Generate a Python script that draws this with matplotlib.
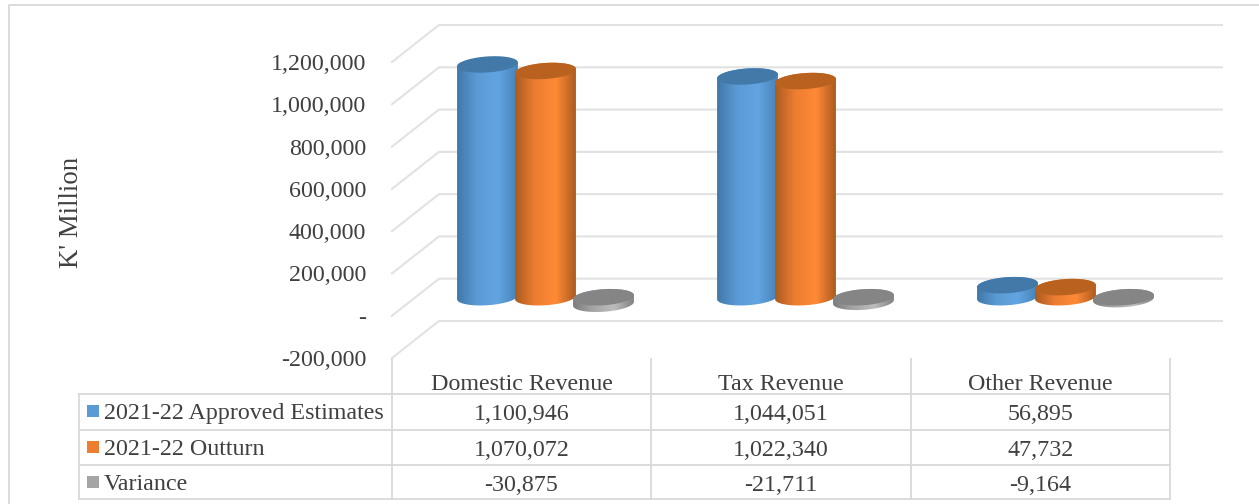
import numpy as np
import matplotlib
matplotlib.use('Agg')
import matplotlib.pyplot as plt
from matplotlib.patches import Polygon, Rectangle
from matplotlib.colors import LinearSegmentedColormap

plt.rcParams['font.family'] = ['Liberation Serif', 'DejaVu Serif']

categories = ['Domestic Revenue', 'Tax Revenue', 'Other Revenue']
series_names = ['2021-22 Approved Estimates', '2021-22 Outturn', 'Variance']
approved = [1100946, 1044051, 56895]
outturn = [1070072, 1022340, 47732]
variance = [-30875, -21711, -9164]
y_ticks = [-200000, 0, 200000, 400000, 600000, 800000, 1000000, 1200000]
y_labels = ['-200,000', '-', '200,000', '400,000', '600,000', '800,000', '1,000,000', '1,200,000']
table_rows = [['1,100,946', '1,044,051', '56,895'],
              ['1,070,072', '1,022,340', '47,732'],
              ['-30,875', '-21,711', '-9,164']]

W, H = 1259, 504
GRID = '#e2e2e2'
TEXT = '#404040'
FS = 17.3
# dark edge, mid, bright, dark edge shading of each cylinder + top face + legend swatch
shades = [['#3f76a6', '#5b9bd5', '#62a5e2', '#4580b5'],
          ['#a85a20', '#ed7d31', '#ff8a35', '#a9591f'],
          ['#7a7a7a', '#a5a5a5', '#bdbdbd', '#808080']]
tops = ['#4279a8', '#b9621f', '#858585']
swatch = ['#5b9bd5', '#ed7d31', '#a5a5a5']

fig = plt.figure(figsize=(W / 100, H / 100), dpi=100)

# front plane of the chart: x 392-1172 px, y 358 (-200k) to 62 (1.2M) px
ax = fig.add_axes([392 / W, 1 - 358 / H, (1172 - 392) / W, (358 - 62) / H])
ax.axis('off')

px_x = 3 / (1172 - 392)          # data units per pixel
px_y = 1400000 / (358 - 62)
depth_x = 47 * px_x              # depth of the 3D box
depth_y = 37 * px_y
rx = 30.5 * px_x
ry = 8 * px_y
tilt = np.deg2rad(4)


def ellipse(cx, cy, start=0, stop=2 * np.pi, n=80):
    t = np.linspace(start, stop, n)
    ex, ey = 30.5 * np.cos(t), 8 * np.sin(t)
    x = ex * np.cos(tilt) - ey * np.sin(tilt)
    y = ex * np.sin(tilt) + ey * np.cos(tilt)
    return np.column_stack([cx + x * px_x, cy + y * px_y])


def cylinder(cx, base, top, colors, top_color, z):
    # body goes from the lower half of the base ellipse up to the top ellipse
    low, high = min(base, top), max(base, top)
    lower = ellipse(cx, low, np.pi, 2 * np.pi)
    upper = ellipse(cx, high, 0, np.pi)
    pts = np.vstack([lower, upper])
    cmap = LinearSegmentedColormap.from_list('c', colors)
    grad = cmap(np.linspace(0, 1, 120))[None, :, :]
    im = ax.imshow(grad, extent=[cx - rx * 1.02, cx + rx * 1.02, low - 3 * ry, high + 3 * ry],
                   aspect='auto', zorder=z, interpolation='bilinear')
    clip = Polygon(pts, closed=True, transform=ax.transData, fc='none', ec='none', clip_on=False)
    ax.add_patch(clip)
    im.set_clip_path(clip)
    ax.add_patch(Polygon(ellipse(cx, high), closed=True, fc=top_color, ec='none',
                         zorder=z + 0.1, clip_on=False))


# walls: gridlines run along the floor diagonal and then along the back wall
back_right = 3 + (1222 - 1172) * px_x
for v in y_ticks:
    ax.plot([0, depth_x, back_right], [v, v + depth_y, v + depth_y], color=GRID, lw=1.5,
            clip_on=False, zorder=1, solid_joinstyle='miter')

# cylinders: middle of the depth, one series offset per bar
offsets = [-58 * px_x, 0, 58 * px_x]
for s, vals in enumerate([approved, outturn, variance]):
    for c, v in enumerate(vals):
        cx = c + 0.5 + depth_x / 2 + offsets[s]
        base = depth_y / 2
        cylinder(cx, base, base + v, shades[s], tops[s], 3 + s + c * 0.01)

ax.set_xlim(0, 3)
ax.set_ylim(-200000, 1200000)

# y tick labels
for v, lab in zip(y_ticks, y_labels):
    ax.text(-26 * px_x, v, lab, ha='right', va='center_baseline', fontsize=FS,
            color=TEXT, clip_on=False)

# overlay axes in pixels for the frame and the data table
ov = fig.add_axes([0, 0, 1, 1], zorder=10)
ov.set_xlim(0, W)
ov.set_ylim(H, 0)
ov.axis('off')
ov.patch.set_alpha(0)

ov.plot([9, 9, W], [H, 5, 5], color='#d9d9d9', lw=1.3)
ov.text(72, 212, "K' Million", rotation=90, ha='center', va='center', fontsize=19.3, color=TEXT)

col_x = [392, 651, 911, 1170]
row_y = [359, 394, 430, 465, 499]
for x in col_x:
    ov.plot([x, x], [row_y[0], row_y[-1]], color='#d9d9d9', lw=1.3)
ov.plot([79, 79], [row_y[1], row_y[-1]], color='#d9d9d9', lw=1.3)
for y in row_y[1:]:
    ov.plot([79, 1170], [y, y], color='#d9d9d9', lw=1.3)

for c, name in enumerate(categories):
    ov.text((col_x[c] + col_x[c + 1]) / 2, 382, name, ha='center', va='center_baseline',
            fontsize=FS, color=TEXT)
label_y = [411, 447, 482]
value_y = [412, 448, 483]
for r, name in enumerate(series_names):
    ov.add_patch(Rectangle((87, label_y[r] - 6), 12, 12, fc=swatch[r], ec='none'))
    ov.text(104, label_y[r], name, ha='left', va='center_baseline', fontsize=FS, color=TEXT)
    for c, val in enumerate(table_rows[r]):
        ov.text((col_x[c] + col_x[c + 1]) / 2, value_y[r], val, ha='center', va='center_baseline',
                fontsize=FS, color=TEXT)

fig.savefig('out.png', dpi=100)
